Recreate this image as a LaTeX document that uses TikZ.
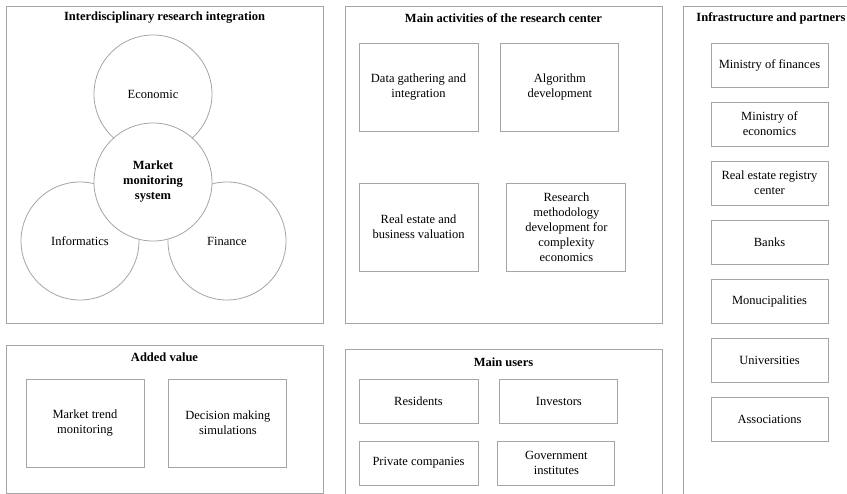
\documentclass[tikz,border=0pt]{standalone}
\usepackage{fontspec}
\setmainfont{Liberation Serif}
\usetikzlibrary{positioning}
\definecolor{framegray}{RGB}{165,165,165}

\begin{document}
\begin{tikzpicture}[x=1pt, y=-1pt,
    every node/.style={font=\fontsize{12.5}{15}\selectfont},
    panel/.style={draw=framegray, line width=.9pt, rectangle, inner sep=0pt},
    heading/.style={font=\fontsize{12.5}{15}\selectfont\bfseries, inner sep=0pt},
    card/.style={draw=framegray, line width=.9pt, rectangle, align=center, inner sep=2pt, minimum width=118pt, minimum height=88pt},
    slim/.style={card, minimum height=44pt},
    ring/.style={draw=framegray, line width=.8pt, circle, align=center, minimum size=118pt, inner sep=0pt}]
    \clip (0,0) rectangle (847,494);
    \fill [white] (0,0) rectangle (847,494);

    % outer panels
    \node (intpanel) [panel, minimum width=317pt, minimum height=317pt] at (164.5,164.5) {};
    \node (actpanel) [panel, minimum width=317pt, minimum height=317pt] at (503.5,164.5) {};
    \node (infpanel) [panel, minimum width=172pt, minimum height=500pt] at (769,256) {};
    \node (addpanel) [panel, minimum width=317pt, minimum height=148pt] at (164.5,419) {};
    \node (usrpanel) [panel, minimum width=317pt, minimum height=152pt] at (503.5,425) {};

    \node (intttl) [heading] at (164.5,18) {Interdisciplinary research integration};
    \node (actttl) [heading] at (503.5,18) {Main activities of the research center};
    \node (infttl) [heading] at (771,18) {Infrastructure and partners};
    \node (addttl) [heading] at (164.5,357) {Added value};
    \node (usrttl) [heading] at (503.5,362) {Main users};

    % circles
    \node (eco) [ring] at (153,94) {Economic};
    \node (info) [ring] at (80,241) {Informatics};
    \node (fin) [ring] at (227,241) {Finance};
    \node (core) [ring, fill=white, font=\fontsize{12.5}{15}\selectfont\bfseries] at (153,182) {Market\\monitoring\\system};

    % activities
    \node (data) [card, minimum width=119pt] at (418.5,87) {Data gathering and\\integration};
    \node (algo) [card, right=22pt of data] {Algorithm\\development};
    \node (valu) [card, minimum width=119pt] at (418.5,227) {Real estate and\\business valuation};
    \node (meth) [card, minimum width=119pt, right=28pt of valu] {Research\\methodology\\development for\\complexity\\economics};

    % partners
    \foreach \name/\txt [count=\i] in {minfin/{Ministry of finances}, mineco/{Ministry of\\economics}, regist/{Real estate registry\\center}, banks/{Banks}, munic/{Monucipalities}, univ/{Universities}, assoc/{Associations}}
        \node (\name) [slim, minimum width=117pt] at (769.5, 65+59*\i-59) {\txt};

    % added value
    \node (trend) [card] at (85,423) {Market trend\\monitoring};
    \node (decis) [card, right=24pt of trend] {Decision making\\simulations};

    % users
    \node (resid) [slim, minimum width=119pt] at (418.5,401) {Residents};
    \node (invst) [slim, right=21pt of resid] {Investors};
    \node (privc) [slim, minimum width=119pt] at (418.5,463) {Private companies};
    \node (govin) [slim, minimum width=117pt, right=19pt of privc] {Government\\institutes};
\end{tikzpicture}
\end{document}
